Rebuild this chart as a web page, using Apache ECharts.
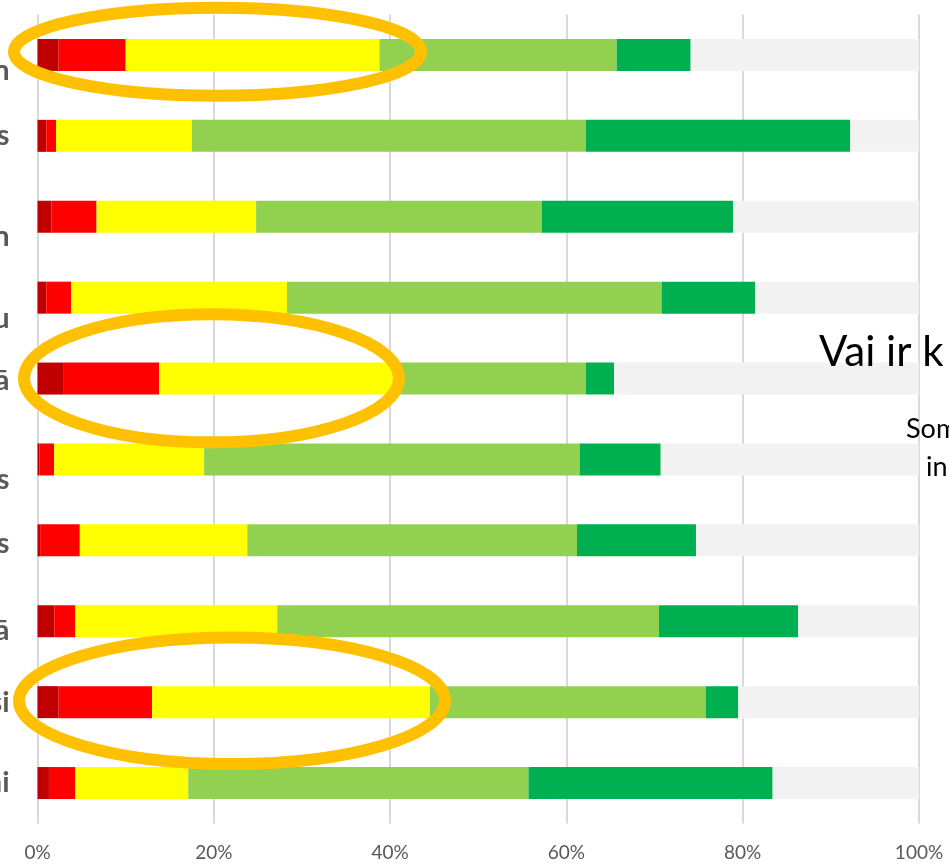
<!DOCTYPE html>
<html>
<head>
<meta charset="utf-8">
<script src="https://cdn.jsdelivr.net/npm/echarts@6/dist/echarts.min.js"></script>
<style>
  html, body { margin: 0; padding: 0; background: #fff; }
  #chart { width: 949px; height: 865px; }
</style>
</head>
<body>
<div id="chart"></div>
<script>
// visible tail of each row label (the rest is cut off by the left edge)
const labels = ['n', 's', 'n', 'u', 'ā', 's', 's', 'ā', 'si', 'ni']

// shares per answer level, %, top row first
const veryBad = [2.4, 1.0, 1.6, 1.0, 2.9, 0.2, 0.3, 1.9, 2.4, 1.3]
const bad = [7.6, 1.1, 5.1, 2.8, 10.9, 1.7, 4.5, 2.4, 10.6, 3.0]
const neutral = [28.8, 15.4, 18.1, 24.5, 27.1, 17.0, 19.0, 22.9, 31.5, 12.8]
const good = [26.9, 44.7, 32.4, 42.5, 21.3, 42.6, 37.4, 43.3, 31.3, 38.6]
const veryGood = [8.4, 30.0, 21.7, 10.6, 3.2, 9.2, 13.5, 15.8, 3.7, 27.7]
const noAnswer = [25.9, 7.8, 21.1, 18.6, 34.6, 29.3, 25.3, 13.7, 20.5, 16.6]

const xTicks = [0, 20, 40, 60, 80, 100]

// labels sit lower on some rows (multi-line labels in the original)
const labelShift = [16, 0, 20, 21, 2, 20, 3, 9, 0, 0]

const font = 'Lato, "Open Sans", sans-serif'
const colors = ['#C00000', '#FF0000', '#FFFF00', '#92D050', '#00B050', '#F2F2F2']
const seriesData = [veryBad, bad, neutral, good, veryGood, noAnswer]

const rich = {}
labelShift.forEach((s, i) => {
  rich['r' + i] = { padding: [s * 2, 0, 0, 0] }
})

const chart = echarts.init(document.getElementById('chart'))

chart.setOption({
  animation: false,
  grid: {
    left: 37.5,
    right: 30,
    top: 14.5,
    bottom: 41.5,
    outerBoundsMode: 'none',
    containLabel: false
  },
  xAxis: {
    type: 'value',
    min: xTicks[0],
    max: xTicks[xTicks.length - 1],
    interval: 20,
    axisLine: { show: false },
    axisTick: { show: false },
    splitLine: { lineStyle: { color: '#d9d9d9', width: 2 } },
    axisLabel: {
      formatter: '{value}%',
      color: '#595959',
      fontSize: 19,
      fontFamily: font,
      margin: 20
    }
  },
  yAxis: {
    type: 'category',
    inverse: true,
    data: labels,
    axisLine: { show: false },
    axisTick: { show: false },
    axisLabel: {
      color: '#595959',
      fontSize: 29,
      fontWeight: 'bold',
      fontFamily: font,
      margin: 28,
      formatter: (v, i) => `{r${i}|${v}}`,
      rich: rich
    }
  },
  series: seriesData.map((d, i) => ({
    type: 'bar',
    stack: 'total',
    barWidth: 32,
    itemStyle: { color: colors[i] },
    data: d
  })),
  graphic: [
    // highlight ellipses
    {
      type: 'ellipse', z: 100,
      shape: { cx: 217.5, cy: 51.8, rx: 203.5, ry: 44 },
      style: { fill: 'none', stroke: '#FFC000', lineWidth: 12 }
    },
    {
      type: 'ellipse', z: 100,
      shape: { cx: 211.5, cy: 378.3, rx: 187.5, ry: 64 },
      style: { fill: 'none', stroke: '#FFC000', lineWidth: 12 }
    },
    {
      type: 'ellipse', z: 100,
      shape: { cx: 232, cy: 700.8, rx: 213, ry: 63.3 },
      style: { fill: 'none', stroke: '#FFC000', lineWidth: 12 }
    },
    // overlapping slide text
    {
      type: 'text', z: 100,
      style: { text: 'Vai ir k', x: 819, y: 352, verticalAlign: 'middle', fill: '#000', font: '42px ' + font }
    },
    {
      type: 'text', z: 100,
      style: { text: 'Som', x: 906, y: 429, verticalAlign: 'middle', fill: '#000', font: '27px ' + font }
    },
    {
      type: 'text', z: 100,
      style: { text: 'in', x: 926, y: 467, verticalAlign: 'middle', fill: '#000', font: '27px ' + font }
    }
  ]
})
</script>
</body>
</html>
